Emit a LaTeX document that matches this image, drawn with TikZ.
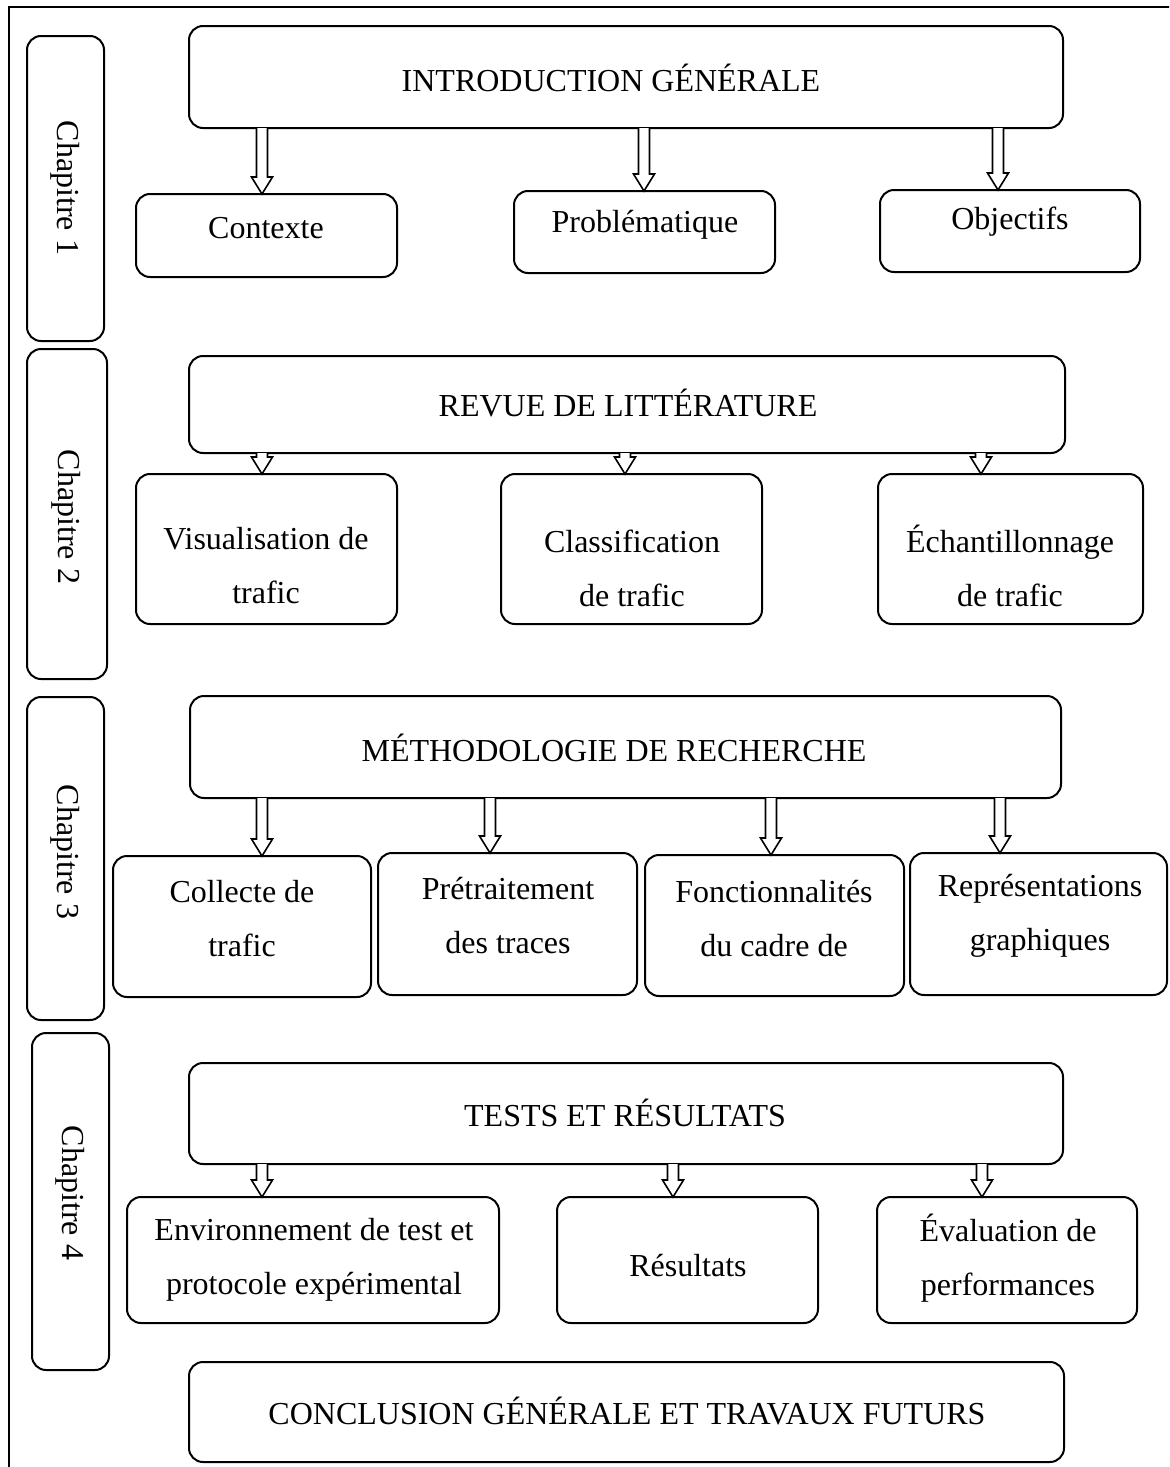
\documentclass[tikz,border=0pt]{standalone}
\usepackage{fontspec}
\setmainfont{Liberation Serif}
\usetikzlibrary{fit,calc}

\tikzset{
  frame/.style={draw, line width=1.2pt},
  box/.style={draw, line width=1pt, rounded corners=7pt, inner sep=0pt, outer sep=0pt},
  chapbox/.style={draw, line width=1pt, rounded corners=7pt, inner sep=0pt, outer sep=0pt},
  txt/.style={font=\fontsize{16}{27}\selectfont, align=center, inner sep=0pt},
  chaptxt/.style={txt, rotate=-90},
  hollow/.style={draw, line width=0.8pt, fill=white},
}

% hollow block arrow from the bottom of #1 to the top of #2, at the x of #3
\newcommand\hollowdown[3]{%
  \draw[hollow] let \p1=(#1.south -| #3), \p2=(#2.north -| #3) in
    (\x1-2.75pt,\y1) -- (\x1-2.75pt,\y2+8.5pt) -- (\x1-5.25pt,\y2+8.5pt) --
    (\x1,\y2) -- (\x1+5.25pt,\y2+8.5pt) -- (\x1+2.75pt,\y2+8.5pt) -- (\x1+2.75pt,\y1);
}

\begin{document}
\begin{tikzpicture}[x=0.5pt,y=-0.5pt]
\useasboundingbox (0,0) rectangle (1169,1467);
\clip (0,0) rectangle (1169,1467);
\fill[white] (0,0) rectangle (1169,1467);
\draw[frame] (9,7) rectangle (1200,1500);

% chapter bands
\node[chapbox, fit={(27,36) (104,341)}] (ch1) {};
\node[chapbox, fit={(27,349) (107,679)}] (ch2) {};
\node[chapbox, fit={(27,697) (104,1020)}] (ch3) {};
\node[chapbox, fit={(32,1033) (109,1370)}] (ch4) {};
\node[chaptxt] (ch1t) at (65,188) {Chapitre 1};
\node[chaptxt] (ch2t) at (66,517) {Chapitre 2};
\node[chaptxt] (ch3t) at (65,852) {Chapitre 3};
\node[chaptxt] (ch4t) at (70,1193) {Chapitre 4};

% arrow columns
\coordinate (xa) at (262,0);
\coordinate (xb) at (644,0);
\coordinate (xc) at (998,0);
\coordinate (xd) at (625,0);
\coordinate (xe) at (981,0);
\coordinate (xf) at (490,0);
\coordinate (xg) at (771,0);
\coordinate (xh) at (1000,0);
\coordinate (xi) at (673,0);
\coordinate (xj) at (982,0);

% chapter 1
\node[box, fit={(189,26) (1063,128)}] (intro) {};
\node[txt] (introt) at (611,78) {INTRODUCTION GÉNÉRALE};
\node[box, fit={(136,194) (397,277)}] (ctx) {};
\node[txt] (ctxt) at (266,228) {Contexte};
\node[box, fit={(514,191) (775,273)}] (prob) {};
\node[txt] (probt) at (645,225) {Problématique};
\node[box, fit={(880,190) (1140,272)}] (obj) {};
\node[txt] (objt) at (1010,222) {Objectifs};
\hollowdown{intro}{ctx}{xa}
\hollowdown{intro}{prob}{xb}
\hollowdown{intro}{obj}{xc}

% chapter 2
\node[box, fit={(189,356) (1065,453)}] (revue) {};
\node[txt] (revuet) at (628,403) {REVUE DE LITTÉRATURE};
\node[box, fit={(136,474) (397,624)}] (visu) {};
\node[txt] (visut) at (266,566) {Visualisation de\\trafic};
\node[box, fit={(501,474) (762,624)}] (classif) {};
\node[txt] (classift) at (632,568) {Classification\\de trafic};
\node[box, fit={(878,474) (1143,624)}] (echant) {};
\node[txt] (echantt) at (1010,566) {Échantillonnage\\de trafic};
\hollowdown{revue}{visu}{xa}
\hollowdown{revue}{classif}{xd}
\hollowdown{revue}{echant}{xe}

% chapter 3
\node[box, fit={(190,696) (1061,798)}] (metho) {};
\node[txt] (methot) at (614,748) {MÉTHODOLOGIE DE RECHERCHE};
\node[box, fit={(113,856) (371,997)}] (collecte) {};
\node[txt] (collectet) at (242,919) {Collecte de\\trafic};
\node[box, fit={(378,853) (637,995)}] (pretrait) {};
\node[txt] (pretraitt) at (508,916) {Prétraitement\\des traces};
\node[box, fit={(645,855) (904,996)}] (fonct) {};
\node[txt] (fonctt) at (774,919) {Fonctionnalités\\du cadre de};
\node[box, fit={(910,853) (1167,995)}] (repr) {};
\node[txt] (reprt) at (1040,916) {Représentations\\graphiques};
\hollowdown{metho}{collecte}{xa}
\hollowdown{metho}{pretrait}{xf}
\hollowdown{metho}{fonct}{xg}
\hollowdown{metho}{repr}{xh}

% chapter 4
\node[box, fit={(189,1063) (1063,1164)}] (tests) {};
\node[txt] (testst) at (625,1113) {TESTS ET RÉSULTATS};
\node[box, fit={(127,1197) (499,1323)}] (env) {};
\node[txt] (envt) at (314,1260) {Environnement de test et\\protocole expérimental};
\node[box, fit={(557,1197) (818,1323)}] (res) {};
\node[txt] (rest) at (688,1266) {Résultats};
\node[box, fit={(877,1197) (1137,1323)}] (evalp) {};
\node[txt] (evalpt) at (1008,1258) {Évaluation de\\performances};
\hollowdown{tests}{env}{xa}
\hollowdown{tests}{res}{xi}
\hollowdown{tests}{evalp}{xj}

% closing
\node[box, fit={(189,1362) (1064,1462)}] (concl) {};
\node[txt] (conclt) at (627,1411) {CONCLUSION GÉNÉRALE ET TRAVAUX FUTURS};
\end{tikzpicture}
\end{document}
